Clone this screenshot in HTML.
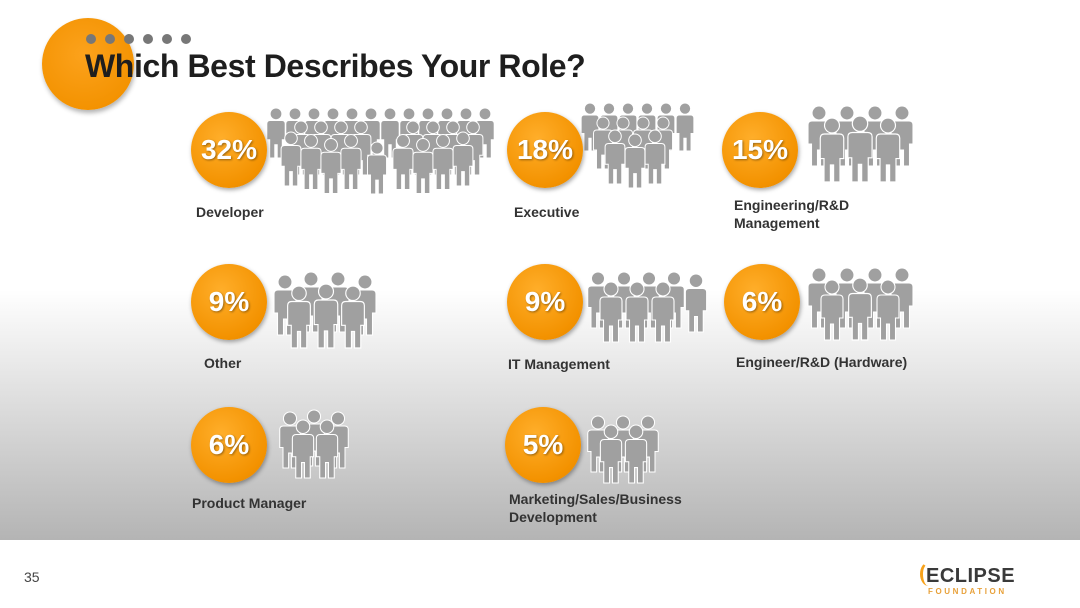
<!DOCTYPE html>
<html><head><meta charset="utf-8"><style>
html,body{margin:0;padding:0;}
body{width:1080px;height:608px;position:relative;overflow:hidden;font-family:"Liberation Sans",sans-serif;background:#fff;}
.bg{position:absolute;left:0;top:0;width:1080px;height:540px;background:linear-gradient(#fff 0px,#fff 290px,#b4b4b4 540px);}
.c{position:absolute;width:76px;height:76px;border-radius:50%;background:radial-gradient(circle at 40% 35%,#ffae2a,#f39200 70%,#e08400);box-shadow:1px 2px 4px rgba(0,0,0,.35);color:#fff;font-weight:bold;font-size:28px;text-align:center;line-height:76px;text-shadow:1px 1px 2px rgba(0,0,0,.4);}
.l{position:absolute;font-weight:bold;font-size:14px;color:#333;line-height:18px;}
svg{position:absolute;left:0;top:0;}
</style></head><body>
<div class="bg"></div>
<div style="position:absolute;left:42px;top:18px;width:92px;height:92px;border-radius:50%;background:radial-gradient(circle at 45% 40%,#fca21c,#f39200 75%,#e58a00);box-shadow:1px 3px 5px rgba(0,0,0,.3)"></div>
<div style="position:absolute;left:86px;top:31px;">
<span style="display:inline-block;width:10px;height:10px;border-radius:50%;background:#777;margin-right:9px"></span><span style="display:inline-block;width:10px;height:10px;border-radius:50%;background:#777;margin-right:9px"></span><span style="display:inline-block;width:10px;height:10px;border-radius:50%;background:#777;margin-right:9px"></span><span style="display:inline-block;width:10px;height:10px;border-radius:50%;background:#777;margin-right:9px"></span><span style="display:inline-block;width:10px;height:10px;border-radius:50%;background:#777;margin-right:9px"></span><span style="display:inline-block;width:10px;height:10px;border-radius:50%;background:#777"></span></div>
<div style="position:absolute;left:85px;top:48px;font-size:32px;font-weight:bold;color:#1e1e1e;letter-spacing:-0.4px">Which Best Describes Your Role?</div>

<svg width="1080" height="608">
<defs>
<symbol id="p" viewBox="0 0 24 60" overflow="visible">
<g fill="#a0a0a0" stroke="#fff" stroke-width="1.1">
<circle cx="12" cy="7" r="7"/>
<path d="M1,19 Q1,15 5,15 H19 Q23,15 23,19 V38 H19.5 V60 H13.5 V44 H10.5 V60 H4.5 V38 H1 Z"/>
</g></symbol>
</defs>
<g>
<use href="#p" x="266" y="108" width="20" height="50"/><use href="#p" x="285" y="108" width="20" height="50"/><use href="#p" x="304" y="108" width="20" height="50"/><use href="#p" x="323" y="108" width="20" height="50"/><use href="#p" x="342" y="108" width="20" height="50"/><use href="#p" x="361" y="108" width="20" height="50"/><use href="#p" x="380" y="108" width="20" height="50"/><use href="#p" x="399" y="108" width="20" height="50"/><use href="#p" x="418" y="108" width="20" height="50"/><use href="#p" x="437" y="108" width="20" height="50"/><use href="#p" x="456" y="108" width="20" height="50"/><use href="#p" x="475" y="108" width="20" height="50"/>
<use href="#p" x="290" y="121" width="22" height="54"/><use href="#p" x="310" y="121" width="22" height="54"/><use href="#p" x="330" y="121" width="22" height="54"/><use href="#p" x="350" y="121" width="22" height="54"/><use href="#p" x="402" y="121" width="22" height="54"/><use href="#p" x="422" y="121" width="22" height="54"/><use href="#p" x="442" y="121" width="22" height="54"/><use href="#p" x="462" y="121" width="22" height="54"/>
<use href="#p" x="280" y="132" width="22" height="54"/><use href="#p" x="300" y="134" width="22" height="56"/><use href="#p" x="320" y="138" width="22" height="56"/><use href="#p" x="340" y="134" width="22" height="56"/><use href="#p" x="365" y="142" width="24" height="52"/><use href="#p" x="392" y="134" width="22" height="56"/><use href="#p" x="412" y="138" width="22" height="56"/><use href="#p" x="432" y="134" width="22" height="56"/><use href="#p" x="452" y="132" width="22" height="54"/>
</g>
<g>
<use href="#p" x="580" y="103" width="20" height="48"/><use href="#p" x="599" y="103" width="20" height="48"/><use href="#p" x="618" y="103" width="20" height="48"/><use href="#p" x="637" y="103" width="20" height="48"/><use href="#p" x="656" y="103" width="20" height="48"/><use href="#p" x="675" y="103" width="20" height="48"/>
<use href="#p" x="592" y="117" width="22" height="52"/><use href="#p" x="612" y="117" width="22" height="52"/><use href="#p" x="632" y="117" width="22" height="52"/><use href="#p" x="652" y="117" width="22" height="52"/>
<use href="#p" x="604" y="130" width="22" height="54"/><use href="#p" x="624" y="134" width="22" height="54"/><use href="#p" x="644" y="130" width="22" height="54"/>
</g>
<g>
<use href="#p" x="806" y="106" width="26" height="60"/><use href="#p" x="834" y="106" width="26" height="60"/><use href="#p" x="862" y="106" width="26" height="60"/><use href="#p" x="889" y="106" width="26" height="60"/>
<use href="#p" x="818" y="118" width="28" height="64"/><use href="#p" x="846" y="116" width="28" height="66"/><use href="#p" x="874" y="118" width="28" height="64"/>
</g>
<g>
<use href="#p" x="806" y="268" width="26" height="60"/><use href="#p" x="834" y="268" width="26" height="60"/><use href="#p" x="862" y="268" width="26" height="60"/><use href="#p" x="889" y="268" width="26" height="60"/>
<use href="#p" x="818" y="280" width="28" height="60"/><use href="#p" x="846" y="278" width="28" height="62"/><use href="#p" x="874" y="280" width="28" height="60"/>
</g>
<g>
<use href="#p" x="272" y="275" width="26" height="60"/><use href="#p" x="298" y="272" width="26" height="60"/><use href="#p" x="325" y="272" width="26" height="60"/><use href="#p" x="352" y="275" width="26" height="60"/>
<use href="#p" x="285" y="286" width="28" height="62"/><use href="#p" x="312" y="284" width="28" height="64"/><use href="#p" x="339" y="286" width="28" height="62"/>
</g>
<g>
<use href="#p" x="586" y="272" width="24" height="56"/><use href="#p" x="612" y="272" width="24" height="56"/><use href="#p" x="637" y="272" width="24" height="56"/><use href="#p" x="662" y="272" width="24" height="56"/><use href="#p" x="684" y="274" width="24" height="58"/>
<use href="#p" x="598" y="282" width="26" height="60"/><use href="#p" x="624" y="282" width="26" height="60"/><use href="#p" x="650" y="282" width="26" height="60"/>
</g>
<g>
<use href="#p" x="278" y="412" width="24" height="56"/><use href="#p" x="302" y="410" width="24" height="56"/><use href="#p" x="326" y="412" width="24" height="56"/>
<use href="#p" x="290" y="420" width="26" height="58"/><use href="#p" x="314" y="420" width="26" height="58"/>
</g>
<g>
<use href="#p" x="586" y="416" width="24" height="56"/><use href="#p" x="611" y="416" width="24" height="56"/><use href="#p" x="636" y="416" width="24" height="56"/>
<use href="#p" x="598" y="425" width="26" height="58"/><use href="#p" x="623" y="425" width="26" height="58"/>
</g>
</svg>

<div class="c" style="left:191px;top:112px">32%</div>
<div class="c" style="left:507px;top:112px">18%</div>
<div class="c" style="left:722px;top:112px">15%</div>
<div class="c" style="left:191px;top:264px">9%</div>
<div class="c" style="left:507px;top:264px">9%</div>
<div class="c" style="left:724px;top:264px">6%</div>
<div class="c" style="left:191px;top:407px">6%</div>
<div class="c" style="left:505px;top:407px">5%</div>

<div class="l" style="left:196px;top:203px">Developer</div>
<div class="l" style="left:514px;top:203px">Executive</div>
<div class="l" style="left:734px;top:196px">Engineering/R&amp;D<br>Management</div>
<div class="l" style="left:204px;top:354px">Other</div>
<div class="l" style="left:508px;top:355px">IT Management</div>
<div class="l" style="left:736px;top:353px">Engineer/R&amp;D (Hardware)</div>
<div class="l" style="left:192px;top:494px">Product Manager</div>
<div class="l" style="left:509px;top:490px">Marketing/Sales/Business<br>Development</div>

<div style="position:absolute;left:24px;top:569px;font-size:14px;color:#444">35</div>
<div style="position:absolute;left:920px;top:562px;width:14px;height:22px;border-left:3px solid #f7a21b;border-radius:50% 0 0 50%;border-top:2px solid transparent;"></div>
<div style="position:absolute;left:926px;top:565px;font-size:20px;font-weight:bold;color:#3a3a3a;letter-spacing:0.5px">ECLIPSE</div>
<div style="position:absolute;left:928px;top:587px;font-size:8px;font-weight:bold;color:#e8a13a;letter-spacing:2.6px">FOUNDATION</div>
</body></html>
